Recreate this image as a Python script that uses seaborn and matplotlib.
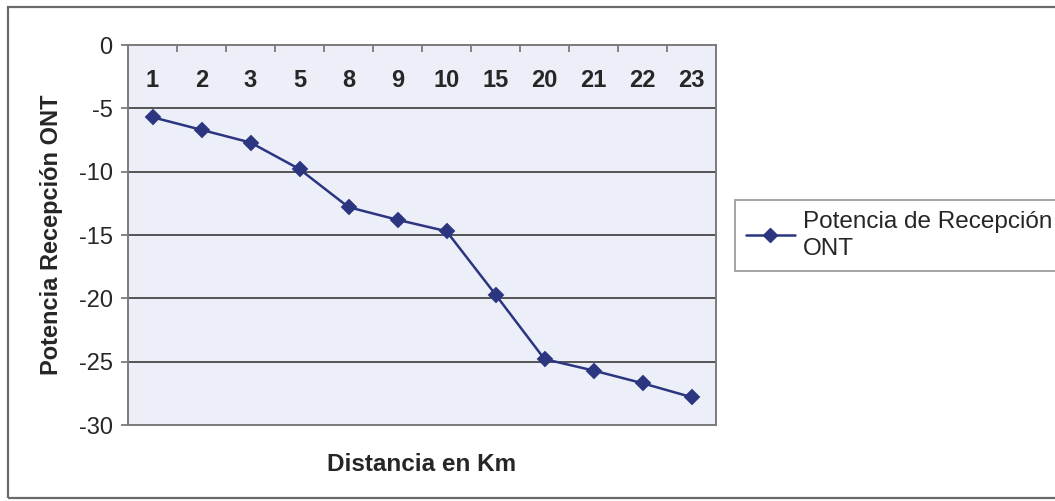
import numpy as np
import pandas as pd
import seaborn as sns
import matplotlib
matplotlib.use("Agg")
import matplotlib.pyplot as plt
from matplotlib.lines import Line2D
from matplotlib.patches import Rectangle
from matplotlib.ticker import FixedLocator

# Distance (km) and received power at the ONT
distancias = ["1", "2", "3", "5", "8", "9", "10", "15", "20", "21", "22", "23"]
potencia = [-5.7, -6.7, -7.7, -9.8, -12.8, -13.8, -14.7, -19.7, -24.8, -25.7, -26.7, -27.8]
y_ticks = [0, -5, -10, -15, -20, -25, -30]
serie = "Potencia de Recepción\nONT"

sns.set_theme(style="white")
plt.rcParams["font.family"] = ["Liberation Sans", "DejaVu Sans"]

df = pd.DataFrame({"Distancia": distancias, "Potencia": potencia})

W, H = 1055, 501
fig = plt.figure(figsize=(W / 100, H / 100), dpi=100)
fig.patch.set_facecolor("white")

# outer chart frame
fig.patches.append(Rectangle((8 / W, 1 - 498 / H), (W + 20 - 8) / W, (498 - 7) / H,
                             transform=fig.transFigure, fill=False,
                             edgecolor="#6a6a6a", linewidth=1.6, zorder=0))

ax = fig.add_axes([128 / W, 1 - 425 / H, (716 - 128) / W, (425 - 45) / H])
ax.set_facecolor("#eceef8")

line_color = "#2b3580"
sns.pointplot(data=df, x="Distancia", y="Potencia", order=distancias, ax=ax,
              color=line_color, markers="D", linestyles="-",
              markersize=7, linewidth=1.8, errorbar=None)

ax.set_xlim(-0.5, len(distancias) - 0.5)
ax.set_ylim(-30, 0)
ax.set_yticks(y_ticks)
ax.set_yticklabels([str(v) for v in y_ticks], fontsize=17)
ax.tick_params(axis="y", left=True, length=5, width=1.2, color="#707070", pad=6)

# horizontal gridlines
for v in y_ticks[1:-1]:
    ax.axhline(v, color="#2a2a2a", linewidth=1.1, zorder=1)

# category axis sits at y = 0 (top), labels drawn inside the plot
ax.xaxis.tick_top()
ax.xaxis.set_label_position("bottom")
ax.set_xticks(range(len(distancias)))
ax.set_xticklabels(distancias, fontsize=17, fontweight="bold")
ax.tick_params(axis="x", which="major", top=True, bottom=False, length=0,
               pad=-34, labeltop=True, labelbottom=False)
ax.xaxis.set_minor_locator(FixedLocator(np.arange(0.5, len(distancias) - 1, 1.0)))
ax.tick_params(axis="x", which="minor", top=True, bottom=False, direction="in",
               length=5, width=1.2, color="#707070")

for s in ax.spines.values():
    s.set_color("#7a7a7a")
    s.set_linewidth(1.4)
    s.set_visible(True)

ax.set_xlabel("Distancia en Km", fontsize=17.5, fontweight="bold", labelpad=20)
ax.set_ylabel("Potencia Recepción ONT", fontsize=17, fontweight="bold", labelpad=11)

handle = Line2D([], [], color=line_color, marker="D", markersize=7, linewidth=1.8)
leg = fig.legend(handles=[handle], labels=[serie], loc="upper left",
                 bbox_to_anchor=(735 / W, 1 - 200 / H), fontsize=17.5,
                 frameon=True, fancybox=False, handlelength=2.0,
                 handletextpad=0.35, borderpad=0.45, labelspacing=0.2,
                 borderaxespad=0)
leg.get_frame().set_edgecolor("#7a7a7a")
leg.get_frame().set_linewidth(1.2)
for t in leg.get_texts():
    t.set_linespacing(1.3)

fig.savefig("out.png", dpi=100, facecolor="white")
